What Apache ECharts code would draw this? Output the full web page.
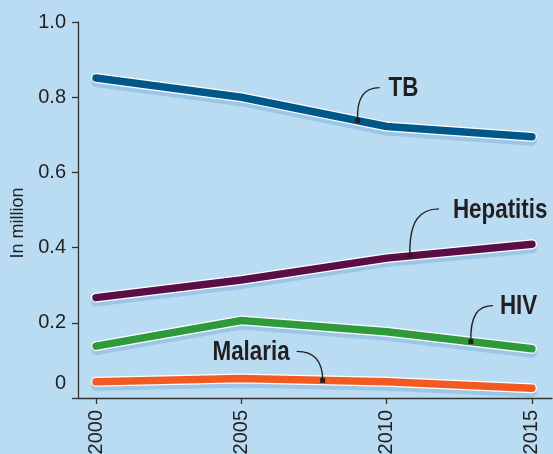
<!DOCTYPE html>
<html>
<head>
<meta charset="utf-8">
<script src="https://cdn.jsdelivr.net/npm/echarts@6/dist/echarts.min.js"></script>
<style>
html,body{margin:0;padding:0;background:#b9dcf3;}
#c{width:553px;height:454px;}
</style>
</head>
<body>
<div id="c"></div>
<script>
// ---- data ----
const years = [2000, 2005, 2010, 2015];
const xTickLabels = ['2000', '2005', '2010', '2015'];
const yTicks = [0, 0.2, 0.4, 0.6, 0.8, 1.0];
const tb = [0.851, 0.800, 0.722, 0.695];
const hepatitis = [0.267, 0.314, 0.372, 0.409];
const hiv = [0.138, 0.206, 0.176, 0.131];
const malaria = [0.043, 0.052, 0.043, 0.026];
const seriesNames = ['TB', 'Hepatitis', 'HIV', 'Malaria'];
const annotationYears = [2009, 2010.8, 2012.9, 2007.8];

// ---- styles ----
const colors = ['#00578a', '#5b0e45', '#2f9a3b', '#f25a22'];
const seriesValues = [tb, hepatitis, hiv, malaria];
const annotationStyle = [
  { dx: 22, dy: -33, gap: 9, side: 'right' },
  { dx: 29, dy: -47, gap: 14, side: 'right' },
  { dx: 22, dy: -36, gap: 7, side: 'right' },
  { dx: -26, dy: -29, gap: 7, side: 'left' }
];
const labelFont = 'Liberation Sans, Arial, sans-serif';

const chart = echarts.init(document.getElementById('c'), null, { renderer: 'canvas' });

const series = [];
seriesValues.forEach((vals, i) => {
  const data = years.map((y, k) => [y, vals[k]]);
  series.push({
    type: 'line', data: data, symbol: 'none', silent: true, z: 2,
    lineStyle: { color: '#ffffff', width: 10, cap: 'round', join: 'round',
      shadowColor: 'rgba(70,130,190,0.25)', shadowBlur: 0, shadowOffsetY: 4 }
  });
  series.push({
    type: 'line', name: seriesNames[i], data: data, symbol: 'none', silent: true, z: 3,
    lineStyle: { color: colors[i], width: 7.5, cap: 'round', join: 'round' }
  });
});

chart.setOption({
  backgroundColor: '#b9dcf3',
  animation: false,
  grid: { left: 78, right: 1, top: 22, bottom: 56, containLabel: false, outerBoundsMode: 'none' },
  xAxis: {
    type: 'value', min: 1999.38, max: 2015.69,
    axisLine: { show: true, lineStyle: { color: '#333', width: 1.3 } },
    axisTick: { show: true, customValues: years, length: 6, lineStyle: { color: '#333', width: 1.3 } },
    axisLabel: {
      customValues: years, rotate: 90, margin: 12,
      formatter: (v) => xTickLabels[years.indexOf(Math.round(v))] || '',
      color: '#231f20', fontSize: 20, fontFamily: labelFont
    },
    splitLine: { show: false }
  },
  yAxis: {
    type: 'value', min: 0, max: 1.0, interval: 0.2,
    name: 'In million', nameLocation: 'middle', nameGap: 46, nameRotate: 90,
    nameTextStyle: { color: '#231f20', fontSize: 18, fontFamily: labelFont, padding: [0, 26, 0, 0] },
    axisLine: { show: true, lineStyle: { color: '#333', width: 1.3 } },
    axisTick: { show: true, length: 6, lineStyle: { color: '#333', width: 1.3 } },
    axisLabel: {
      margin: 12, color: '#231f20', fontSize: 20, fontFamily: labelFont,
      formatter: (v) => {
        const idx = yTicks.findIndex(t => Math.abs(t - v) < 1e-6);
        if (idx === 0) return '{z|0}';
        return v.toFixed(1);
      },
      rich: { z: { fontSize: 20, color: '#231f20', fontFamily: labelFont, padding: [0, 0, 30, 0] } }
    },
    splitLine: { show: false }
  },
  series: series
});

// annotations anchored to data coordinates
function valueAt(vals, yr) {
  for (let k = 0; k < years.length - 1; k++) {
    if (yr >= years[k] && yr <= years[k + 1]) {
      const t = (yr - years[k]) / (years[k + 1] - years[k]);
      return vals[k] + t * (vals[k + 1] - vals[k]);
    }
  }
  return vals[vals.length - 1];
}
const graphics = [];
seriesValues.forEach((vals, i) => {
  const yr = annotationYears[i];
  const p = chart.convertToPixel({ gridIndex: 0 }, [yr, valueAt(vals, yr)]);
  const st = annotationStyle[i];
  const ex = p[0] + st.dx, ey = p[1] + st.dy;
  let shape;
  if (st.side === 'right') {
    shape = { x1: p[0], y1: p[1], cpx1: p[0] - 1, cpy1: ey + (p[1] - ey) * 0.25, cpx2: p[0] + (ex - p[0]) * 0.35, cpy2: ey, x2: ex, y2: ey };
  } else {
    shape = { x1: ex, y1: ey, cpx1: ex + (p[0] - ex) * 0.65, cpy1: ey, cpx2: p[0], cpy2: ey + (p[1] - ey) * 0.3, x2: p[0], y2: p[1] };
  }
  graphics.push({ type: 'bezierCurve', shape: shape, style: { stroke: '#231f20', lineWidth: 1.4, fill: null }, z: 10, silent: true });
  graphics.push({ type: 'rect', shape: { x: p[0] - 2.5, y: p[1] - 2.5, width: 5, height: 5 }, style: { fill: '#231f20' }, z: 11, silent: true });
  const tx = st.side === 'right' ? ex + st.gap : ex - st.gap;
  graphics.push({
    type: 'text', z: 11, silent: true,
    x: tx, y: ey + 1, scaleX: 0.8, scaleY: 1,
    style: {
      text: seriesNames[i],
      x: 0, y: 0,
      align: st.side === 'right' ? 'left' : 'right',
      verticalAlign: 'middle',
      font: 'bold 28px "Liberation Sans", Arial, sans-serif',
      fill: '#231f20'
    }
  });
});
chart.setOption({ graphic: graphics });
</script>
</body>
</html>
